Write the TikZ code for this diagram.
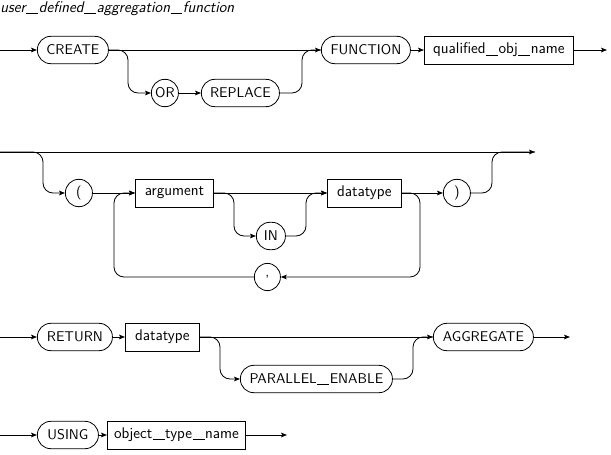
\documentclass[tikz,border=0pt]{standalone}
\usetikzlibrary{arrows.meta}
% long underscore used inside identifiers
\newcommand{\usc}{\kern0.4pt\rule[-1pt]{8.9pt}{0.5pt}\kern0.4pt}
\begin{document}
\begin{tikzpicture}[x=0.75pt,y=-0.75pt,
  font=\sffamily\fontsize{10.6}{12}\selectfont,
  line width=0.6pt,
  term/.style={draw, rounded corners=10pt, minimum height=20.5pt, inner sep=0pt, anchor=west},
  nonterm/.style={draw, rectangle, minimum height=21pt, inner sep=0pt, anchor=west,
    font=\sffamily\fontsize{11.6}{13}\selectfont},
  wpx/.style={minimum width=#1*0.75pt},
  flow/.style={-{Stealth[length=4.5pt,width=3.5pt,inset=1pt]}},
  rail/.style={rounded corners=7.5pt},
]
\useasboundingbox (0,0) rectangle (611,454);

% title
\node[anchor=base west, inner sep=0pt, font=\sffamily\slshape\fontsize{11.6}{13}\selectfont] (title) at (0,12) {user\usc defined\usc aggregation\usc function};

% CREATE [OR REPLACE] FUNCTION qualified_obj_name
\coordinate (s1) at (0,50);
\node[term, wpx=71] (create) at (37,50) {CREATE};
\node[term, wpx=27] (or) at (151,93) {OR};
\node[term, wpx=78] (replace) at (201,93) {REPLACE};
\node[term, wpx=89] (function) at (321,50) {FUNCTION};
\node[nonterm, wpx=149] (qon) at (424,50) {qualified\usc obj\usc name};
\coordinate (e1) at (607,50);

\draw[flow] (s1) -- (create.west);
\draw[flow] (create.east) -- (function.west);
\draw[flow, rail] (create.east) -- (128,50) -- (128,93) -- (or.west);
\draw[flow] (or.east) -- (replace.west);
\draw[rail] (replace.east) -- (302,93) -- (302,50) -- (function.west);
\draw[flow] (function.east) -- (qon.west);
\draw[flow] (qon.east) -- (e1);

% optional argument list
\coordinate (s2) at (0,152);
\coordinate (e2) at (535,152);
\node[term, wpx=27] (lp) at (65,193) {(};
\node[nonterm, wpx=78] (arg) at (135,193) {argument};
\node[term, wpx=29] (in) at (256,236) {IN};
\node[nonterm, wpx=74] (dt) at (327,193) {datatype};
\node[term, wpx=27] (rp) at (443,193) {)};
\node[term, wpx=26] (comma) at (254,277) {,};

\draw[flow] (s2) -- (e2);
\draw[flow, rail] (s2) -- (43,152) -- (43,193) -- (lp.west);
\draw[flow] (lp.east) -- (arg.west);
\draw[flow] (arg.east) -- (dt.west);
\draw[flow, rail] (arg.east) -- (234,193) -- (234,236) -- (in.west);
\draw[flow, rail] (in.east) -- (306,236) -- (306,193) -- (dt.west);
\draw[flow] (dt.east) -- (rp.west);
\draw[flow, rail] (dt.east) -- (420,193) -- (420,277) -- (comma.east);
\draw[flow, rail] (comma.west) -- (114,277) -- (114,193) -- (arg.west);
\draw[rail] (rp.east) -- (492,193) -- (492,152) -- (e2);

% RETURN datatype [PARALLEL_ENABLE] AGGREGATE
\coordinate (s3) at (0,337);
\node[term, wpx=75] (ret) at (37,337) {RETURN};
\node[nonterm, wpx=74] (dt2) at (125,337) {datatype};
\node[term, wpx=152] (pe) at (240,379) {PARALLEL\usc ENABLE};
\node[term, wpx=100] (agg) at (433,337) {AGGREGATE};
\coordinate (e3) at (570,337);

\draw[flow] (s3) -- (ret.west);
\draw[flow] (ret.east) -- (dt2.west);
\draw[flow] (dt2.east) -- (agg.west);
\draw[flow, rail] (dt2.east) -- (220,337) -- (220,379) -- (pe.west);
\draw[rail] (pe.east) -- (413,379) -- (413,337) -- (agg.west);
\draw[flow] (agg.east) -- (e3);

% USING object_type_name
\coordinate (s4) at (0,435);
\node[term, wpx=61] (using) at (37,435) {USING};
\node[nonterm, wpx=138] (otn) at (107,435) {object\usc type\usc name};
\coordinate (e4) at (287,435);

\draw[flow] (s4) -- (using.west);
\draw[flow] (using.east) -- (otn.west);
\draw[flow] (otn.east) -- (e4);
\end{tikzpicture}
\end{document}
